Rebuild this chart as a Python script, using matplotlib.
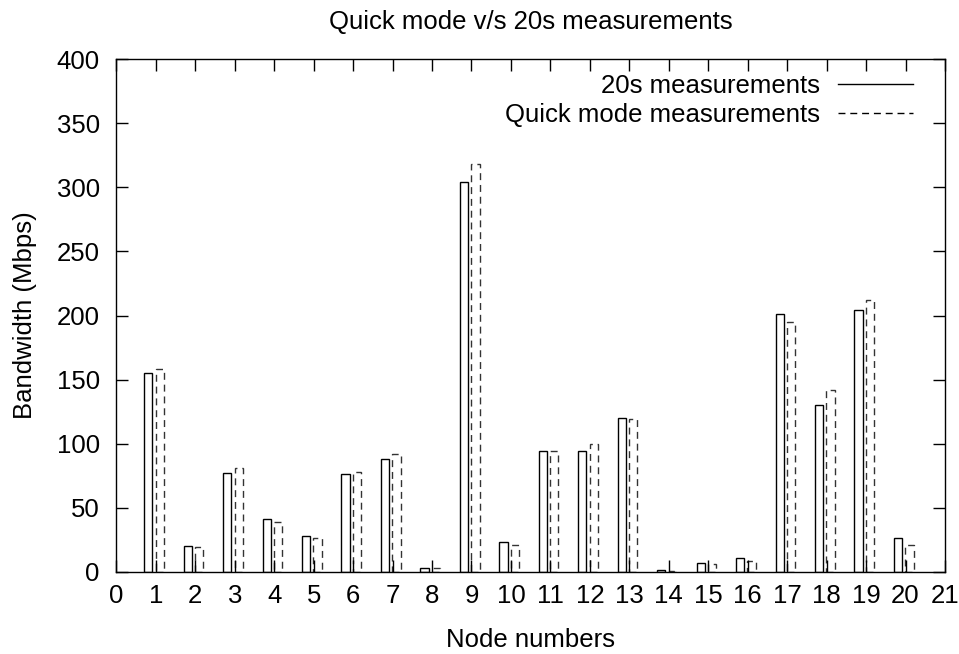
import matplotlib
matplotlib.use("Agg")
import matplotlib.pyplot as plt
from matplotlib.lines import Line2D

plt.rcParams['font.family'] = ['Liberation Sans', 'DejaVu Sans']

# bandwidth per node
nodes = list(range(1, 21))
twenty_sec = [155, 20, 77, 41, 28, 76, 88, 3, 304, 23, 94, 94, 120, 1, 7, 11, 201, 130, 204, 26]
quick_mode = [158, 19, 81, 39, 26, 78, 92, 3, 318, 21, 94, 100, 119, 0.5, 6, 8.5, 195, 142, 212, 21]

fs = 18.5

fig = plt.figure(figsize=(9.59, 6.54), dpi=100)
ax = fig.add_axes([0.1213, 0.1258, 0.8641, 0.7835])

w = 0.21
ax.bar([n - 0.19 for n in nodes], twenty_sec, width=w, fill=False,
       edgecolor='black', linewidth=1.0)
ax.bar([n + 0.10 for n in nodes], quick_mode, width=w, fill=False,
       edgecolor='#333333', linewidth=1.0, linestyle=(0, (5, 3.5)))

ax.set_xlim(0, 21)
ax.set_ylim(0, 400)
ax.set_xticks(range(0, 22))
ax.set_yticks(range(0, 401, 50))
ax.tick_params(direction='in', length=8.5, width=1.0, top=True, right=True,
               labelsize=fs)
ax.tick_params(axis='y', pad=12)
ax.tick_params(axis='x', pad=9)
for s in ax.spines.values():
    s.set_linewidth(1.0)

ax.set_title('Quick mode v/s 20s measurements', fontsize=fs, pad=22)
ax.set_xlabel('Node numbers', fontsize=fs, labelpad=14)
ax.set_ylabel('Bandwidth (Mbps)', fontsize=fs, labelpad=14)

handles = [Line2D([], [], color='black', lw=1.0),
           Line2D([], [], color='black', lw=1.0, linestyle=(0, (5, 3.5)))]
ax.legend(handles, ['20s measurements', 'Quick mode measurements'],
          loc='upper right', bbox_to_anchor=(0.9735, 0.992), frameon=False,
          markerfirst=False, handlelength=2.92, handletextpad=0.7,
          labelspacing=0.2, fontsize=fs, borderaxespad=0.0)

fig.savefig('out.png', dpi=100)
